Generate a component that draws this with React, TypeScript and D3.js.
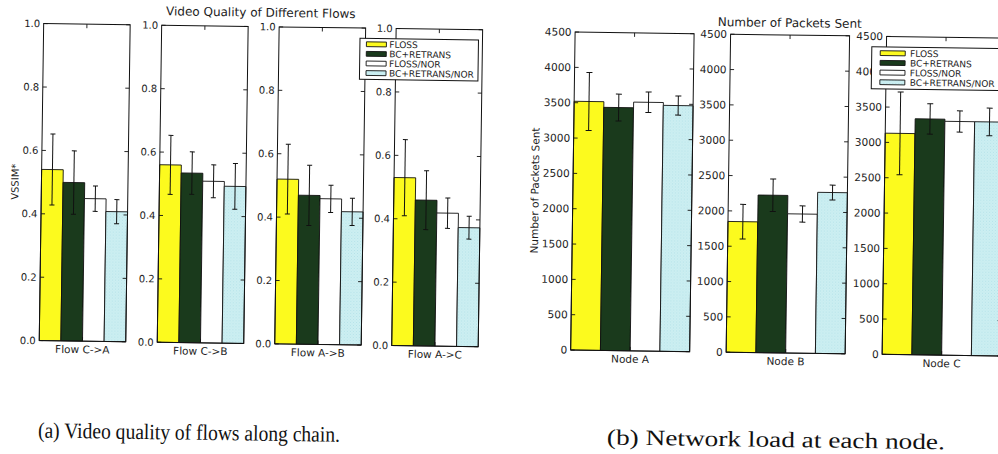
import React from "react";
import * as d3 from "d3";

// ---- data -------------------------------------------------------------
const seriesNames = ["FLOSS", "BC+RETRANS", "FLOSS/NOR", "BC+RETRANS/NOR"];

const flowCategories = ["Flow C->A", "Flow C->B", "Flow A->B", "Flow A->C"];
const flossVssim = [0.54, 0.56, 0.52, 0.53];
const flossVssimErr = [0.112, 0.093, 0.11, 0.12];
const bcVssim = [0.5, 0.535, 0.47, 0.46];
const bcVssimErr = [0.1, 0.067, 0.095, 0.093];
const flossNorVssim = [0.45, 0.51, 0.46, 0.42];
const flossNorVssimErr = [0.04, 0.052, 0.043, 0.048];
const bcNorVssim = [0.41, 0.495, 0.42, 0.375];
const bcNorVssimErr = [0.038, 0.072, 0.043, 0.036];
const vssimTicks = [0, 0.2, 0.4, 0.6, 0.8, 1.0];

const nodeCategories = ["Node A", "Node B", "Node C"];
const flossPackets = [3520, 1850, 3130];
const flossPacketsErr = [410, 245, 585];
const bcPackets = [3440, 2230, 3340];
const bcPacketsErr = [190, 230, 215];
const flossNorPackets = [3520, 1970, 3310];
const flossNorPacketsErr = [145, 115, 150];
const bcNorPackets = [3480, 2280, 3310];
const bcNorPacketsErr = [135, 105, 195];
const packetTicks = [0, 500, 1000, 1500, 2000, 2500, 3000, 3500, 4000, 4500];

// ---- styles -----------------------------------------------------------
const FONT = "'DejaVu Sans', sans-serif";
const SERIF = "'Liberation Serif', 'DejaVu Serif', serif";
const INK = "#1c1c1c";
const seriesFill = ["#fcfa1e", "#1a3a1c", "#ffffff", "url(#cyanHatch)"];

type PanelProps = {
  x: number;
  y: number;
  w: number;
  h: number;
  values: number[];
  errors: number[];
  yMax: number;
  ticks: number[];
  fmt: (v: number) => string;
  label: string;
  tickFont: number;
  labelFont: number;
  cap: number;
};

function Panel(p: PanelProps) {
  const xs = d3.scaleBand<string>().domain(seriesNames).range([0, p.w]).padding(0);
  const ys = d3.scaleLinear().domain([0, p.yMax]).range([p.h, 0]);
  const bw = xs.bandwidth();
  return (
    <g transform={`translate(${p.x},${p.y})`}>
      {seriesNames.map((s, i) => (
        <rect
          key={s}
          x={xs(s)}
          y={ys(p.values[i])}
          width={bw}
          height={p.h - ys(p.values[i])}
          fill={seriesFill[i]}
          stroke="#111"
          strokeWidth={0.9}
        />
      ))}
      {seriesNames.map((s, i) => {
        const cx = (xs(s) as number) + bw / 2;
        const y1 = ys(p.values[i] + p.errors[i]);
        const y0 = ys(p.values[i] - p.errors[i]);
        return (
          <g key={s} stroke="#111" strokeWidth={1}>
            <line x1={cx} x2={cx} y1={y1} y2={y0} />
            <line x1={cx - p.cap / 2} x2={cx + p.cap / 2} y1={y1} y2={y1} />
            <line x1={cx - p.cap / 2} x2={cx + p.cap / 2} y1={y0} y2={y0} />
          </g>
        );
      })}
      <rect x={0} y={0} width={p.w} height={p.h} fill="none" stroke="#111" strokeWidth={1} />
      {p.ticks.map((t) => (
        <g key={t} stroke="#111" strokeWidth={0.9}>
          <line x1={0} x2={4} y1={ys(t)} y2={ys(t)} />
          <line x1={p.w - 4} x2={p.w} y1={ys(t)} y2={ys(t)} />
        </g>
      ))}
      <g stroke="#111" strokeWidth={0.9}>
        <line x1={p.w / 2} x2={p.w / 2} y1={0} y2={4} />
        <line x1={p.w / 2} x2={p.w / 2} y1={p.h - 4} y2={p.h} />
      </g>
      {p.ticks.map((t) => (
        <text
          key={t}
          x={-3.5}
          y={ys(t)}
          dy="0.36em"
          textAnchor="end"
          fontFamily={FONT}
          fontSize={p.tickFont}
          fill={INK}
        >
          {p.fmt(t)}
        </text>
      ))}
      <text
        x={p.w / 2}
        y={p.h + 12}
        textAnchor="middle"
        fontFamily={FONT}
        fontSize={p.labelFont}
        fill={INK}
      >
        {p.label}
      </text>
    </g>
  );
}

type LegendProps = {
  x: number;
  y: number;
  w: number;
  h: number;
  rowY: number; // first row centre, relative to the frame top
  rowStep: number;
  patchX: number;
  patchW: number;
  textX: number;
};

function Legend(l: LegendProps) {
  return (
    <g transform={`translate(${l.x},${l.y})`}>
      <rect x={0} y={0} width={l.w} height={l.h} fill="#ffffff" stroke="#111" strokeWidth={1} />
      {seriesNames.map((s, i) => {
        const cy = l.rowY + i * l.rowStep;
        return (
          <g key={s}>
            <rect
              x={l.patchX}
              y={cy - 2.4}
              width={l.patchW}
              height={4.8}
              fill={seriesFill[i]}
              stroke="#111"
              strokeWidth={0.9}
            />
            <text x={l.textX} y={cy} dy="0.36em" fontFamily={FONT} fontSize={9} fill={INK}>
              {s}
            </text>
          </g>
        );
      })}
    </g>
  );
}

const flowSeries = [flossVssim, bcVssim, flossNorVssim, bcNorVssim];
const flowErrs = [flossVssimErr, bcVssimErr, flossNorVssimErr, bcNorVssimErr];
const nodeSeries = [flossPackets, bcPackets, flossNorPackets, bcNorPackets];
const nodeErrs = [flossPacketsErr, bcPacketsErr, flossNorPacketsErr, bcNorPacketsErr];

export default function App() {
  const flowLefts = [44, 162, 279.5, 396.5];
  const nodeLefts = [575.5, 731, 887];
  return (
    <svg
      width={998}
      height={454}
      viewBox="0 0 998 454"
      style={{ position: "absolute", left: 0, top: 0, display: "block", background: "#ffffff" }}
    >
      <defs>
        <pattern id="cyanHatch" width={3} height={3} patternUnits="userSpaceOnUse">
          <rect width={3} height={3} fill="#cdeff2" />
          <rect x={0} y={0} width={1} height={1} fill="#b4e2e8" />
          <rect x={1.5} y={1.5} width={1} height={1} fill="#bfe8ec" />
        </pattern>
      </defs>
      <rect width={998} height={454} fill="#ffffff" />
      <g transform="rotate(0.8)">
        {/* (a) video quality per flow */}
        <text x={261} y={13} textAnchor="middle" fontFamily={FONT} fontSize={12} fill={INK}>
          Video Quality of Different Flows
        </text>
        <text
          transform="translate(17.5,181.5) rotate(-90)"
          textAnchor="middle"
          dy="0.36em"
          fontFamily={FONT}
          fontSize={10}
          fill={INK}
        >
          VSSIM*
        </text>
        {flowCategories.map((c, k) => (
          <Panel
            key={c}
            x={flowLefts[k]}
            y={23}
            w={86.5}
            h={317}
            values={flowSeries.map((s) => s[k])}
            errors={flowErrs.map((s) => s[k])}
            yMax={1}
            ticks={vssimTicks}
            fmt={d3.format(".1f")}
            label={c}
            tickFont={10}
            labelFont={10.5}
            cap={5}
          />
        ))}
        <Legend
          x={360.5}
          y={33.3}
          w={118.5}
          h={41}
          rowY={5.8}
          rowStep={9.6}
          patchX={6.5}
          patchW={20}
          textX={29.5}
        />

        {/* (b) packets sent per node */}
        <text x={790} y={16} textAnchor="middle" fontFamily={FONT} fontSize={12} fill={INK}>
          Number of Packets Sent
        </text>
        <text
          transform="translate(537.5,183) rotate(-90)"
          textAnchor="middle"
          dy="0.36em"
          fontFamily={FONT}
          fontSize={10.5}
          fill={INK}
        >
          Number of Packets Sent
        </text>
        {nodeCategories.map((c, k) => (
          <Panel
            key={c}
            x={nodeLefts[k]}
            y={24}
            w={119}
            h={318}
            values={nodeSeries.map((s) => s[k])}
            errors={nodeErrs.map((s) => s[k])}
            yMax={4500}
            ticks={packetTicks}
            fmt={d3.format("d")}
            label={c}
            tickFont={10.5}
            labelFont={10.5}
            cap={6}
          />
        ))}
        <Legend
          x={872.4}
          y={34.5}
          w={130}
          h={42}
          rowY={6.3}
          rowStep={9.7}
          patchX={8.5}
          patchW={25}
          textX={38.4}
        />

        {/* sub-captions */}
        <text
          x={44}
          y={437}
          fontFamily={SERIF}
          fontSize={22}
          textLength={302}
          lengthAdjust="spacingAndGlyphs"
          fill="#111"
        >
          (a) Video quality of flows along chain.
        </text>
        <text
          x={613}
          y={436}
          fontFamily={SERIF}
          fontSize={22}
          textLength={338}
          lengthAdjust="spacingAndGlyphs"
          fill="#111"
        >
          (b) Network load at each node.
        </text>
      </g>
    </svg>
  );
}
